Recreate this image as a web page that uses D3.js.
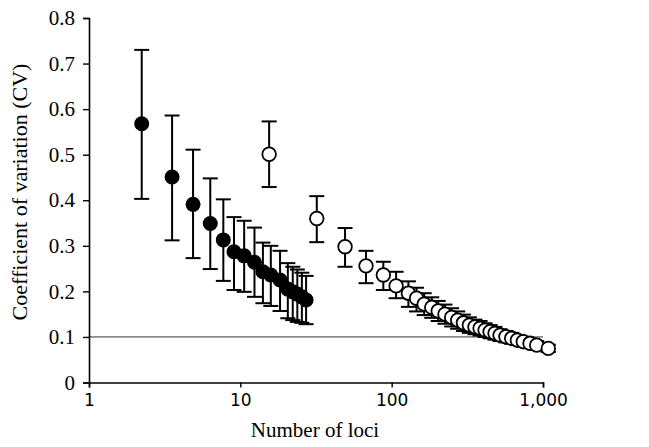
<!DOCTYPE html>
<html>
<head>
<meta charset="utf-8">
<script src="https://cdn.jsdelivr.net/npm/d3@7"></script>
<style>
html,body{margin:0;padding:0;background:#fff;}
svg{display:block;}
</style>
</head>
<body>
<svg id="chart" width="649" height="447"></svg>
<script>
// Filled series (x on axis scale, CV, lower and upper error bar ends)
const filledX  = [2.23, 3.54, 4.87, 6.33, 7.72, 9.08, 10.6, 12.4, 14.1, 15.9, 18.3, 20.6, 22.2, 23.8, 25.5, 27.2];
const filledY  = [0.568, 0.451, 0.391, 0.349, 0.313, 0.287, 0.278, 0.264, 0.243, 0.236, 0.225, 0.205, 0.199, 0.194, 0.188, 0.181];
const filledLo = [0.403, 0.312, 0.273, 0.249, 0.223, 0.203, 0.199, 0.188, 0.174, 0.168, 0.157, 0.141, 0.137, 0.133, 0.131, 0.128];
const filledHi = [0.730, 0.586, 0.511, 0.448, 0.402, 0.363, 0.355, 0.340, 0.307, 0.300, 0.289, 0.262, 0.254, 0.248, 0.241, 0.234];

// Open series
const openX  = [15.5, 32.0, 49.2, 67.7, 88.1, 107, 129, 146, 164, 184, 203, 225, 249, 273, 298, 326, 355, 384, 414, 447, 482, 520, 569, 621, 677, 741, 821, 909, 1084];
const openY  = [0.501, 0.360, 0.298, 0.256, 0.236, 0.212, 0.196, 0.185, 0.172, 0.165, 0.157, 0.150, 0.143, 0.137, 0.131, 0.126, 0.122, 0.119, 0.115, 0.1115, 0.108, 0.104, 0.1005, 0.097, 0.093, 0.0896, 0.086, 0.082, 0.075];
const openLo = [0.429, 0.308, 0.254, 0.218, 0.203, 0.185, 0.166, 0.156, 0.148, 0.142, 0.135, 0.129, 0.123, 0.118, 0.113, 0.109, 0.106, 0.103, 0.100, 0.097, 0.094, 0.091, 0.088, 0.085, 0.082, 0.079, 0.076, 0.073, 0.067];
const openHi = [0.573, 0.409, 0.339, 0.289, 0.265, 0.243, 0.222, 0.208, 0.196, 0.187, 0.179, 0.171, 0.163, 0.156, 0.149, 0.143, 0.138, 0.135, 0.130, 0.126, 0.122, 0.117, 0.113, 0.109, 0.104, 0.100, 0.096, 0.091, 0.083];

const yTicks = [0, 0.1, 0.2, 0.3, 0.4, 0.5, 0.6, 0.7, 0.8];
const xTicks = [1, 10, 100, 1000];
const xTickLabels = ["1", "10", "100", "1,000"];
const refLine = 0.1;

const svg = d3.select("#chart");
const x = d3.scaleLog().domain([1, 1000]).range([89, 543]);
const y = d3.scaleLinear().domain([0, 0.8]).range([382.5, 18]);

// reference line
svg.append("line")
  .attr("x1", x(1)).attr("x2", x(1000))
  .attr("y1", y(refLine)).attr("y2", y(refLine))
  .attr("stroke", "#333").attr("stroke-width", 1);

// Y axis
const yAxis = d3.axisLeft(y).tickValues(yTicks).tickSize(6).tickPadding(8)
  .tickFormat(d => d === 0 ? "0" : d3.format(".1f")(d));
const gy = svg.append("g").attr("transform", `translate(${x(1)},0)`).call(yAxis);
gy.select(".domain").attr("stroke", "#000").attr("stroke-width", 1.6);
gy.selectAll(".tick line").attr("stroke", "#000").attr("stroke-width", 1.4);
gy.selectAll(".tick text").attr("font-family", "Liberation Serif, Times New Roman, serif")
  .attr("font-size", 21).attr("fill", "#000");

// X axis
const xAxis = d3.axisBottom(x).tickValues(xTicks).tickSize(5).tickPadding(6)
  .tickFormat((d, i) => xTickLabels[i]);
const gx = svg.append("g").attr("transform", `translate(0,${y(0)})`).call(xAxis);
gx.select(".domain").attr("stroke", "#000").attr("stroke-width", 1.6);
gx.selectAll(".tick line").attr("stroke", "#000").attr("stroke-width", 1.4);
gx.selectAll(".tick text").attr("font-family", "DejaVu Sans, Verdana, sans-serif")
  .attr("font-size", 17).attr("fill", "#000");

// titles
svg.append("text")
  .attr("x", 315).attr("y", 437)
  .attr("text-anchor", "middle")
  .attr("font-family", "Liberation Serif, Times New Roman, serif")
  .attr("font-size", 21).text("Number of loci");
svg.append("text")
  .attr("transform", "translate(27,192) rotate(-90)")
  .attr("text-anchor", "middle")
  .attr("font-family", "Liberation Serif, Times New Roman, serif")
  .attr("font-size", 22).text("Coefficient of variation (CV)");

function drawSeries(xs, ys, los, his, filled) {
  const data = xs.map((v, i) => ({x: v, y: ys[i], lo: los[i], hi: his[i]}));
  const g = svg.append("g");
  const capW = 7.5;
  const eb = g.selectAll("g.eb").data(data).join("g");
  eb.append("line").attr("x1", d => x(d.x)).attr("x2", d => x(d.x))
    .attr("y1", d => y(d.lo)).attr("y2", d => y(d.hi))
    .attr("stroke", "#000").attr("stroke-width", 2);
  eb.append("line").attr("x1", d => x(d.x) - capW).attr("x2", d => x(d.x) + capW)
    .attr("y1", d => y(d.hi)).attr("y2", d => y(d.hi))
    .attr("stroke", "#000").attr("stroke-width", 2);
  eb.append("line").attr("x1", d => x(d.x) - capW).attr("x2", d => x(d.x) + capW)
    .attr("y1", d => y(d.lo)).attr("y2", d => y(d.lo))
    .attr("stroke", "#000").attr("stroke-width", 2);
  g.selectAll("circle").data(data).join("circle")
    .attr("cx", d => x(d.x)).attr("cy", d => y(d.y))
    .attr("r", filled ? 7.5 : 6.8)
    .attr("fill", filled ? "#000" : "#fff")
    .attr("stroke", "#000").attr("stroke-width", filled ? 0 : 1.8);
}
drawSeries(filledX, filledY, filledLo, filledHi, true);
drawSeries(openX, openY, openLo, openHi, false);
</script>
</body>
</html>
